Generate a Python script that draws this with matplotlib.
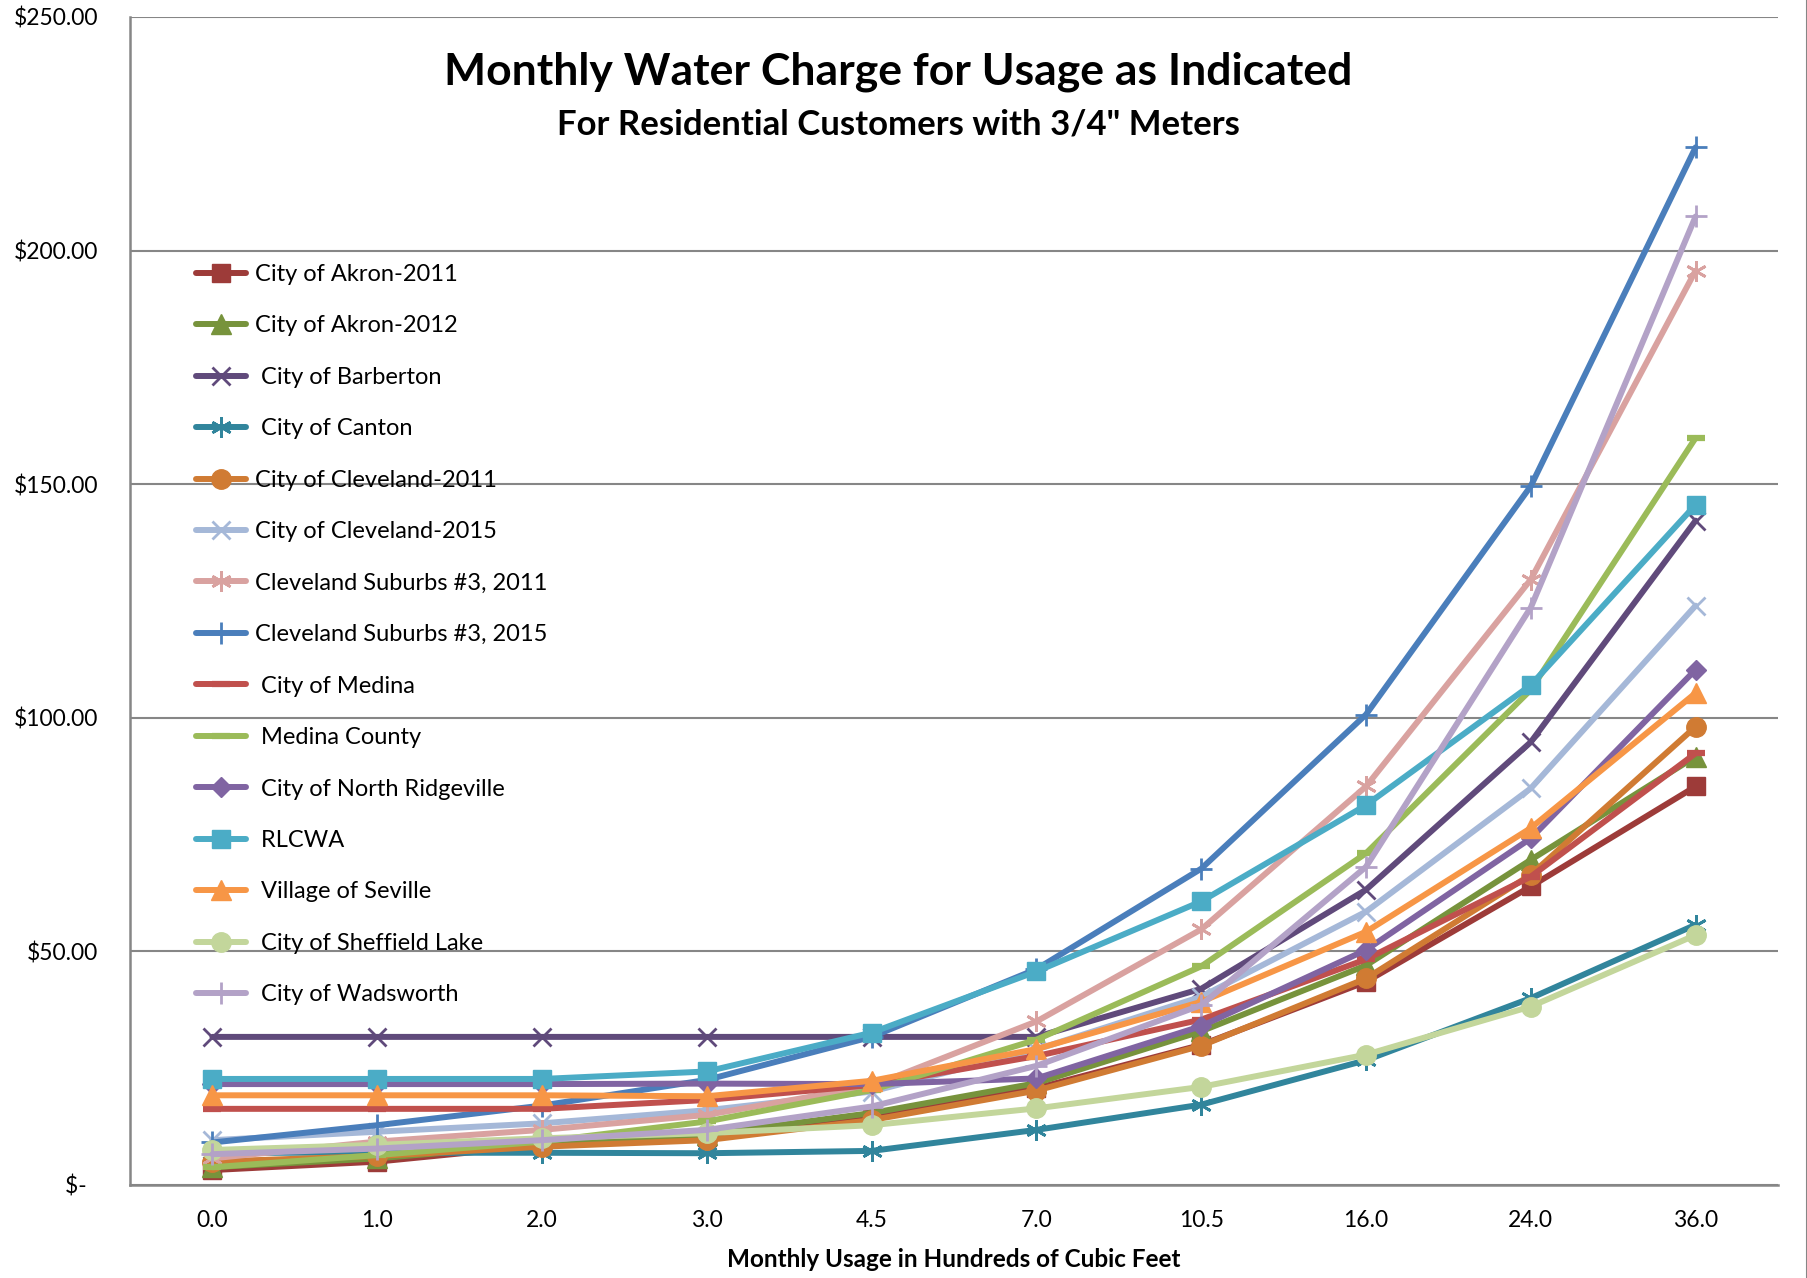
import matplotlib
matplotlib.use("Agg")
import matplotlib.pyplot as plt
from matplotlib.ticker import FuncFormatter, FixedLocator

plt.rcParams['font.family'] = ['Lato', 'DejaVu Sans']

categories = ["0.0", "1.0", "2.0", "3.0", "4.5", "7.0", "10.5", "16.0", "24.0", "36.0"]

akron_2011 = [3.2, 5.0, 8.5, 10.2, 14.7, 20.7, 30.0, 43.5, 63.9, 85.3]
akron_2012 = [3.8, 5.7, 8.7, 10.8, 15.4, 21.8, 32.9, 47.0, 69.6, 91.7]
barberton = [31.7, 31.7, 31.7, 31.7, 31.7, 31.7, 42.0, 63.2, 94.8, 142.2]
canton = [6.9, 6.9, 6.9, 6.8, 7.3, 11.8, 17.2, 26.7, 40.0, 55.7]
cleveland_2011 = [5.0, 6.2, 8.2, 9.6, 13.9, 20.2, 29.8, 44.2, 66.4, 98.1]
cleveland_2015 = [9.6, 11.4, 13.2, 16.0, 20.0, 29.0, 40.3, 58.5, 84.9, 124.0]
suburbs_2011 = [5.7, 9.3, 11.8, 15.0, 21.2, 35.0, 54.7, 85.3, 129.6, 195.7]
suburbs_2015 = [9.1, 12.8, 17.0, 22.5, 31.7, 46.2, 67.7, 100.7, 149.6, 222.1]
medina_city = [16.3, 16.3, 16.3, 18.2, 21.4, 27.6, 35.4, 48.3, 66.0, 92.4]
medina_county = [3.8, 6.4, 9.3, 13.6, 20.3, 31.1, 46.8, 71.0, 106.0, 159.9]
north_ridgeville = [21.6, 21.6, 21.6, 21.7, 21.6, 22.8, 34.0, 50.3, 74.2, 110.3]
rlcwa = [22.7, 22.7, 22.7, 24.3, 32.6, 45.7, 60.7, 81.3, 107.0, 145.6]
seville = [19.2, 19.2, 19.2, 19.0, 22.3, 29.1, 39.2, 54.2, 76.4, 105.3]
sheffield_lake = [7.5, 8.6, 10.0, 11.1, 12.8, 16.4, 21.0, 27.9, 38.2, 53.5]
wadsworth = [6.6, 7.8, 9.6, 11.8, 16.8, 25.5, 38.5, 68.1, 123.6, 207.3]

series_labels = [
    "City of Akron-2011", "City of Akron-2012", " City of Barberton", " City of Canton",
    "City of Cleveland-2011", "City of Cleveland-2015", "Cleveland Suburbs #3, 2011",
    "Cleveland Suburbs #3, 2015", " City of Medina", " Medina County",
    " City of North Ridgeville", " RLCWA", " Village of Seville",
    " City of Sheffield Lake", " City of Wadsworth",
]
series_values = [
    akron_2011, akron_2012, barberton, canton, cleveland_2011, cleveland_2015,
    suburbs_2011, suburbs_2015, medina_city, medina_county, north_ridgeville,
    rlcwa, seville, sheffield_lake, wadsworth,
]

ASTER = (6, 2, 0)
styles = [
    dict(color="#9D3B39", marker="s", ms=13),
    dict(color="#77933C", marker="^", ms=15),
    dict(color="#604A7B", marker="x", ms=13, mew=2.0),
    dict(color="#31859C", marker=ASTER, ms=15, mew=2.0),
    dict(color="#D07B33", marker="o", ms=14),
    dict(color="#A5B8D8", marker="x", ms=13, mew=2.0),
    dict(color="#D9A2A0", marker=ASTER, ms=15, mew=2.0),
    dict(color="#4A7EBB", marker="+", ms=16, mew=2.0),
    dict(color="#C0504D", marker="_", ms=13, mew=4.5),
    dict(color="#9BBB59", marker="_", ms=13, mew=4.5),
    dict(color="#8064A2", marker="D", ms=10),
    dict(color="#4BACC6", marker="s", ms=13),
    dict(color="#F79646", marker="^", ms=15),
    dict(color="#C3D69B", marker="o", ms=14),
    dict(color="#B3A2C7", marker="+", ms=16, mew=2.0),
]

W, H = 1808, 1278
fig = plt.figure(figsize=(W / 100, H / 100), dpi=100)
ax = fig.add_axes([130 / W, 1 - 1185 / H, (1778 - 130) / W, (1185 - 17) / H])

x = list(range(len(categories)))
for label, vals, st in zip(series_labels, series_values, styles):
    ax.plot(x, vals, label=label, color=st["color"], marker=st["marker"],
            markersize=st["ms"], markeredgewidth=st.get("mew", 1.0),
            markerfacecolor=st["color"], markeredgecolor=st["color"],
            linewidth=4.3, solid_capstyle="round", solid_joinstyle="round")

ax.set_xlim(-0.5, len(categories) - 0.5)
ax.set_ylim(0, 250)
ax.xaxis.set_major_locator(FixedLocator(x))
ax.set_xticklabels(categories)
ax.yaxis.set_major_locator(FixedLocator([0, 50, 100, 150, 200, 250]))
ax.yaxis.set_major_formatter(FuncFormatter(lambda v, p: "$-  " if v == 0 else f"${v:,.2f}"))
ax.tick_params(axis="both", length=0, labelsize=16.5, colors="black")
ax.tick_params(axis="y", pad=23)
ax.tick_params(axis="x", pad=18)

ax.grid(axis="y", color="#868686", linewidth=1.5)
ax.set_axisbelow(True)
for s in ["top", "right"]:
    ax.spines[s].set_visible(False)
for s in ["left", "bottom"]:
    ax.spines[s].set_color("#868686")
    ax.spines[s].set_linewidth(1.8)

ax.set_xlabel("Monthly Usage in Hundreds of Cubic Feet", fontsize=17.5, fontweight="bold", labelpad=12)

fig.text(898 / W, 1 - 72 / H, "Monthly Water Charge for Usage as Indicated",
         ha="center", va="center", fontsize=32, fontweight="bold")
fig.text(898 / W, 1 - 124 / H, "For Residential Customers with 3/4\" Meters",
         ha="center", va="center", fontsize=25, fontweight="bold")

leg = ax.legend(loc="upper left", bbox_to_anchor=(196 / W, 1 - 264 / H),
                bbox_transform=fig.transFigure, frameon=False, fontsize=17,
                borderpad=0, borderaxespad=0, handlelength=2.1, handletextpad=0.4,
                labelspacing=1.29, numpoints=1)

fig.add_artist(plt.Line2D([1 - 1 / W, 1 - 1 / W], [0, 1], transform=fig.transFigure,
                          color="#868686", linewidth=1.5))

fig.savefig("out.png", dpi=100)
